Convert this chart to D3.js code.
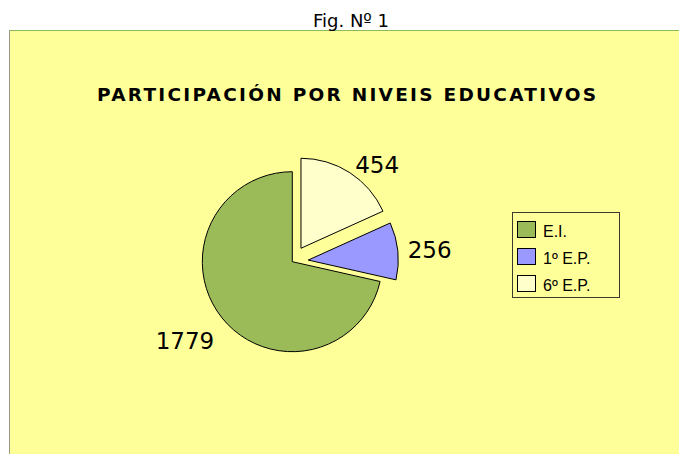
<!DOCTYPE html>
<html>
<head>
<meta charset="utf-8">
<script src="https://cdn.jsdelivr.net/npm/d3@7"></script>
<style>
  body { margin: 0; background: #fff; }
  svg { display: block; }
</style>
</head>
<body>
<div id="chart"></div>
<script>
const categories = ['E.I.', '1º E.P.', '6º E.P.'];
const values = [1779, 256, 454];

const colors = ['#9BBB59', '#9999FF', '#FFFFCC'];
const explode = [0, 16, 16];

const w = 679;
const h = 454;
const cx = 292.3;
const cy = 261.7;
const r = 90;

const svg = d3.select('#chart').append('svg').attr('width', w).attr('height', h);

// chart area
svg.append('rect').attr('x', 9).attr('y', 30).attr('width', w - 9).attr('height', h - 30).attr('fill', '#FFFF99');
svg.append('line').attr('x1', 9).attr('x2', w).attr('y1', 30.5).attr('y2', 30.5).attr('stroke', '#8DBB5A');
svg.append('line').attr('x1', 9.5).attr('x2', 9.5).attr('y1', 30).attr('y2', h).attr('stroke', '#9A9A8A');

svg
  .append('text')
  .attr('x', 351)
  .attr('y', 26.5)
  .attr('text-anchor', 'middle')
  .attr('font-family', 'DejaVu Sans')
  .attr('font-size', 18)
  .text('Fig. Nº 1');

svg
  .append('text')
  .attr('x', 97)
  .attr('y', 101)
  .attr('textLength', 499)
  .attr('lengthAdjust', 'spacing')
  .attr('font-family', 'DejaVu Sans')
  .attr('font-weight', 'bold')
  .attr('font-size', 18.5)
  .text('PARTICIPACIÓN POR NIVEIS EDUCATIVOS');

// pie, drawn counterclockwise from 12 o'clock
const pie = d3.pie().sort(null).value(d => d).startAngle(2 * Math.PI).endAngle(0);
const arc = d3.arc().innerRadius(0).outerRadius(r);
const arcs = pie(values);

const mid = d => (d.startAngle + d.endAngle) / 2;

const slices = svg
  .selectAll('.slice')
  .data(arcs)
  .enter()
  .append('g')
  .attr('class', 'slice')
  .attr('transform', (d, i) => {
    const a = mid(d);
    return `translate(${cx + explode[i] * Math.sin(a)},${cy - explode[i] * Math.cos(a)})`;
  });

slices
  .append('path')
  .attr('d', arc)
  .attr('fill', (d, i) => colors[i])
  .attr('stroke', '#000')
  .attr('stroke-width', 1)
  .attr('stroke-linejoin', 'round');

// value labels outside the slices
const labelFont = 23;
slices
  .append('text')
  .attr('font-family', 'DejaVu Sans')
  .attr('font-size', labelFont)
  .attr('text-anchor', d => (Math.sin(mid(d)) >= 0 ? 'start' : 'end'))
  .attr('x', d => (r + 10) * Math.sin(mid(d)))
  .attr('y', d => {
    const a = mid(d);
    let y = -(r + 10) * Math.cos(a);
    if (Math.cos(a) < 0) y += labelFont * 0.73;
    return y + labelFont * 0.365;
  })
  .text(d => d.data);

// legend
const legend = svg.append('g').attr('transform', 'translate(512,212)');
legend
  .append('rect')
  .attr('x', 0.5)
  .attr('y', 0.5)
  .attr('width', 107)
  .attr('height', 85)
  .attr('fill', 'none')
  .attr('stroke', '#3A3A30');

categories.forEach((key, i) => {
  const row = legend.append('g').attr('transform', `translate(0,${i * 27})`);
  row
    .append('rect')
    .attr('x', 5.5)
    .attr('y', 9.5)
    .attr('width', 18)
    .attr('height', 16)
    .attr('fill', colors[i])
    .attr('stroke', '#000');
  row
    .append('text')
    .attr('x', 31)
    .attr('y', 24.5)
    .attr('font-family', 'Liberation Sans, Arial')
    .attr('font-size', 16)
    .text(key);
});
</script>
</body>
</html>
